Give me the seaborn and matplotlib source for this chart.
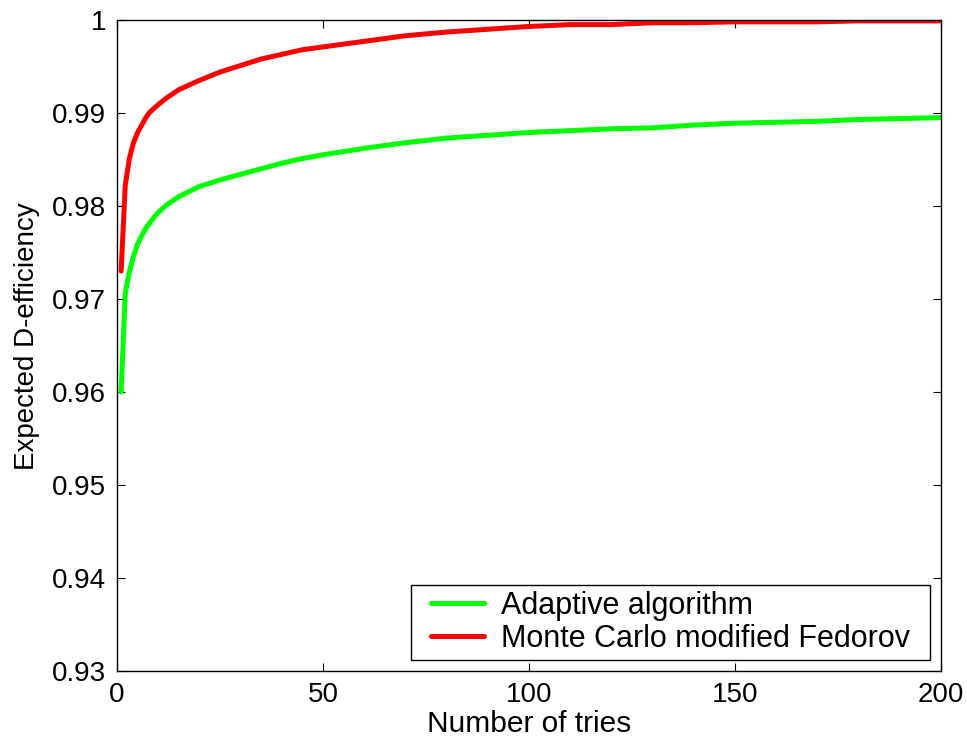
import pandas as pd
import matplotlib
matplotlib.use('Agg')
import matplotlib.pyplot as plt
from matplotlib.path import Path
import seaborn as sns

# valores
tries = [1, 2, 3, 4, 5, 6, 7, 8, 9, 10, 12, 15, 20, 25, 30, 35, 40, 45, 50,
         60, 70, 80, 90, 100, 110, 120, 130, 140, 150, 160, 170, 180, 190, 200]
adaptive = [0.9600, 0.9706, 0.9729, 0.9746, 0.9759, 0.9768, 0.9776, 0.9782, 0.9788, 0.9793,
            0.9801, 0.9810, 0.9821, 0.9828, 0.9834, 0.9840, 0.9846, 0.9851, 0.9855,
            0.9862, 0.9868, 0.9873, 0.9876, 0.9879, 0.9881, 0.9883, 0.9884, 0.9887,
            0.9889, 0.9890, 0.9891, 0.9893, 0.9894, 0.9895]
fedorov = [0.9730, 0.9822, 0.9851, 0.9868, 0.9879, 0.9887, 0.9895, 0.9901, 0.9905, 0.9909,
           0.9916, 0.9925, 0.9935, 0.9944, 0.9951, 0.9958, 0.9963, 0.9968, 0.9971,
           0.9977, 0.9983, 0.9987, 0.9990, 0.9993, 0.9995, 0.9995, 0.9997, 0.9997,
           0.9998, 0.9998, 0.9998, 0.9999, 0.9999, 0.9999]
series_names = ['Adaptive algorithm', 'Monte Carlo modified Fedorov']
x_ticks = [0, 50, 100, 150, 200]
y_ticks = [0.93, 0.94, 0.95, 0.96, 0.97, 0.98, 0.99, 1.0]

df = pd.concat([
    pd.DataFrame({'tries': tries, 'eff': adaptive, 'metodo': series_names[0]}),
    pd.DataFrame({'tries': tries, 'eff': fedorov, 'metodo': series_names[1]}),
])

sns.set_style('ticks')
plt.rcParams['font.family'] = ['Liberation Sans', 'DejaVu Sans']
plt.rcParams['text.color'] = 'black'
plt.rcParams['axes.labelcolor'] = 'black'
plt.rcParams['xtick.color'] = 'black'
plt.rcParams['ytick.color'] = 'black'

fig = plt.figure(figsize=(9.67, 7.39), dpi=100)
ax = fig.add_axes([0.121, 0.092, 0.852, 0.881])

sns.lineplot(data=df, x='tries', y='eff', hue='metodo', ax=ax,
             palette=['#00ff00', '#ff0000'], linewidth=3.6, legend=False)

ax.set_xlim(0, 200)
ax.set_ylim(0.93, 1.0)
ax.set_xticks(x_ticks)
ax.set_yticks(y_ticks)
ax.set_yticklabels(['%g' % v for v in y_ticks])
ax.tick_params(direction='in', top=True, right=True, length=6, width=0.8,
               labelsize=20, pad=8)
for s in ax.spines.values():
    s.set_linewidth(1.0)
    s.set_color('black')

ax.set_xlabel('Number of tries', fontsize=21.5, labelpad=1)
ax.set_ylabel('Expected D-efficiency', fontsize=20)
ax.yaxis.set_label_coords(-0.093, 0.515)


# caixa da legenda estilo MATLAB: mais larga, menos alta
def caixa_legenda(x0, y0, width, height, mutation_size):
    px = 0.5 * mutation_size
    py = 0.05 * mutation_size
    x1, y1 = x0 + width, y0 + height
    return Path([(x0 - px, y0 - py), (x1 + px, y0 - py), (x1 + px, y1 + py),
                 (x0 - px, y1 + py), (x0 - px, y0 - py)], closed=True)


leg = ax.legend(ax.lines[:2], series_names, loc='lower right', fontsize=22,
                bbox_to_anchor=(0.968, 0.019), borderaxespad=0,
                frameon=True, fancybox=False, edgecolor='black', framealpha=1,
                handlelength=1.75, handletextpad=0.55, labelspacing=0.1,
                borderpad=0.15)
leg.get_frame().set_linewidth(1.0)
leg.get_frame().set_boxstyle(caixa_legenda)

plt.savefig('out.png', dpi=100)
